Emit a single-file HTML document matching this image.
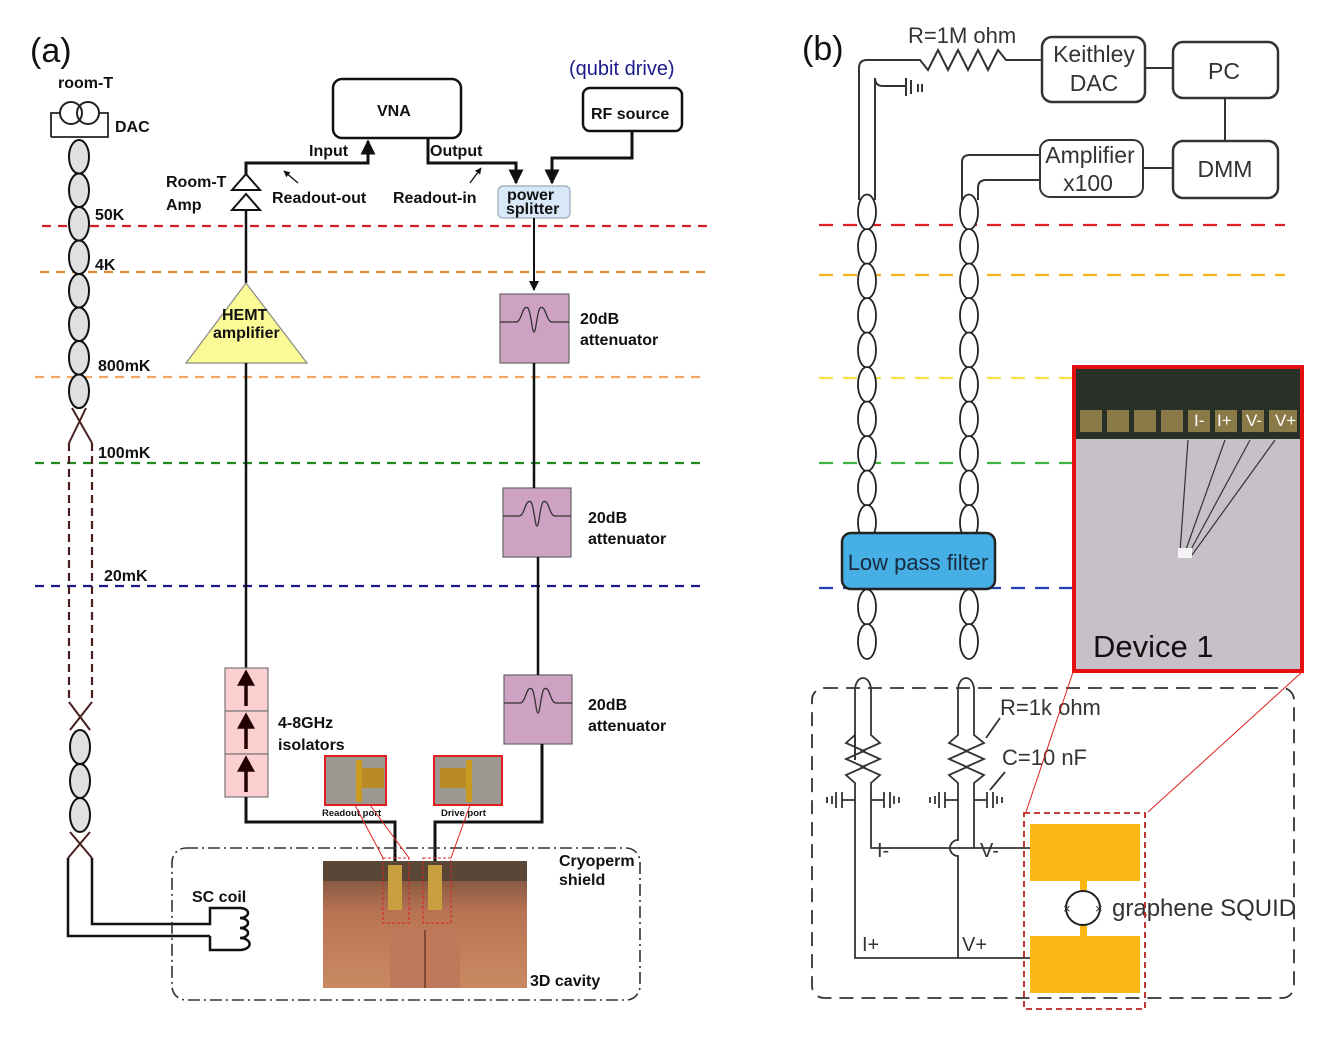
<!DOCTYPE html>
<html><head><meta charset="utf-8">
<style>
html,body{margin:0;padding:0;background:#fff;}
svg{display:block;}
.a{font-family:"Liberation Sans",Arial,sans-serif;font-weight:bold;font-size:16px;fill:#111;}
.b{font-family:"Liberation Sans",sans-serif;fill:#333;}
</style></head>
<body>
<svg id="s" width="1317" height="1040" viewBox="0 0 1317 1040" xmlns="http://www.w3.org/2000/svg">
<defs>
<marker id="ar" viewBox="0 0 10 10" refX="9" refY="5" markerWidth="5" markerHeight="5" orient="auto"><path d="M0,0L10,5L0,10z" fill="#111"/></marker>
<linearGradient id="cu" x1="0" y1="0" x2="0" y2="1"><stop offset="0" stop-color="#6b4a3a"/><stop offset="0.4" stop-color="#b87353"/><stop offset="1" stop-color="#c98a62"/></linearGradient>
</defs>

<!-- ========== (a) ========== -->
<text x="30" y="62" font-family="Liberation Sans,sans-serif" font-size="34" fill="#111">(a)</text>

<g stroke-width="2.2" stroke-dasharray="9,7">
<line x1="42" y1="226" x2="710" y2="226" stroke="#d02020"/>
<line x1="40" y1="272" x2="710" y2="272" stroke="#e08a2a"/>
<line x1="35" y1="377" x2="705" y2="377" stroke="#f0a860"/>
<line x1="35" y1="463" x2="705" y2="463" stroke="#208a20"/>
<line x1="35" y1="586" x2="705" y2="586" stroke="#1a1a8a"/>
</g>
<text class="a" x="95" y="220">50K</text>
<text class="a" x="95" y="270">4K</text>
<text class="a" x="98" y="371">800mK</text>
<text class="a" x="98" y="458">100mK</text>
<text class="a" x="104" y="581">20mK</text>

<text class="a" x="58" y="88">room-T</text>
<path d="M51,137 V113 H60 M100,113 H108 V137 H51" fill="none" stroke="#222" stroke-width="1.8"/>
<circle cx="71" cy="113" r="11" fill="none" stroke="#222" stroke-width="2"/>
<circle cx="88" cy="113" r="11" fill="none" stroke="#222" stroke-width="2"/>
<text class="a" x="115" y="132">DAC</text>
<g id="chainA" fill="#e0e0e0" stroke="#111" stroke-width="2"></g>
<path d="M72,408 L92,443 M86,408 L69,443 M69,702 L90,730 M92,702 L70,730 M70,832 L92,858 M90,832 L68,858" stroke="#4a2020" stroke-width="2"/>
<path d="M69,443 V702 M92,443 V702" stroke="#4a2020" stroke-width="2.2" stroke-dasharray="8,5"/>
<path d="M68,858 V936 H210 M92,858 V924 H210 V908 H240 M210,936 V950 H240" fill="none" stroke="#111" stroke-width="2.5"/>
<path d="M240,908 a8,5 0 0 1 0,10 a8,5 0 0 1 0,10 a8,5 0 0 1 0,10 a8,5 0 0 1 0,12" fill="none" stroke="#111" stroke-width="2.5"/>
<text class="a" x="192" y="902" font-size="15">SC coil</text>

<rect x="333" y="79" width="128" height="59" rx="9" fill="#fff" stroke="#111" stroke-width="2.5"/>
<text class="a" x="377" y="116">VNA</text>
<rect x="583" y="88" width="99" height="43" rx="7" fill="#fff" stroke="#111" stroke-width="2.5"/>
<text class="a" x="591" y="119">RF source</text>
<text x="569" y="75" font-family="Liberation Sans,sans-serif" font-size="20" fill="#1a1a8a">(qubit drive)</text>

<path d="M246,188 V163 H368 V141" fill="none" stroke="#111" stroke-width="3" marker-end="url(#ar)"/>
<path d="M428,138 V163 H516 V183" fill="none" stroke="#111" stroke-width="3" marker-end="url(#ar)"/>
<path d="M632,131 V158 H552 V183" fill="none" stroke="#111" stroke-width="3" marker-end="url(#ar)"/>
<text class="a" x="309" y="156">Input</text>
<text class="a" x="430" y="156">Output</text>
<text class="a" x="272" y="203">Readout-out</text>
<text class="a" x="393" y="203">Readout-in</text>
<path d="M298,183 L284,171" stroke="#111" stroke-width="1.3" marker-end="url(#ar)"/>
<path d="M470,183 L481,168" stroke="#111" stroke-width="1.3" marker-end="url(#ar)"/>
<text class="a" x="166" y="187">Room-T</text>
<text class="a" x="166" y="210">Amp</text>
<path d="M232,190 L246,174 L260,190 Z M232,210 L246,194 L260,210 Z" fill="#fff" stroke="#111" stroke-width="2"/>
<rect x="498" y="186" width="72" height="32" rx="5" fill="#d8e8f8" stroke="#9ab" stroke-width="1.2"/>
<text class="a" x="507" y="200" font-size="15">power</text>
<text class="a" x="506" y="214" font-size="15">splitter</text>

<line x1="246" y1="210" x2="246" y2="283" stroke="#111" stroke-width="2.5"/>
<path d="M246,283 L307,363 L186,363 Z" fill="#fafa96" stroke="#888" stroke-width="1.2"/>
<text class="a" x="222" y="320" font-size="14">HEMT</text>
<text class="a" x="213" y="338" font-size="14">amplifier</text>
<line x1="246" y1="363" x2="246" y2="668" stroke="#111" stroke-width="2.5"/>
<g fill="#fbcfd0" stroke="#777" stroke-width="1.2">
<rect x="225" y="668" width="43" height="43"/><rect x="225" y="711" width="43" height="43"/><rect x="225" y="754" width="43" height="43"/>
</g>
<g stroke="#200" stroke-width="3.5" fill="#200">
<line x1="246" y1="706" x2="246" y2="682"/><path d="M240,684 L246,673 L252,684Z"/>
<line x1="246" y1="749" x2="246" y2="725"/><path d="M240,727 L246,716 L252,727Z"/>
<line x1="246" y1="792" x2="246" y2="768"/><path d="M240,770 L246,759 L252,770Z"/>
</g>
<text class="a" x="278" y="728">4-8GHz</text>
<text class="a" x="278" y="750">isolators</text>
<path d="M246,797 V822 H395 V862" fill="none" stroke="#111" stroke-width="3"/>

<line x1="534" y1="218" x2="534" y2="290" stroke="#111" stroke-width="2" marker-end="url(#ar)"/>
<g fill="#cda2c2" stroke="#666" stroke-width="1.2">
<rect x="500" y="294" width="69" height="69"/>
<rect x="503" y="488" width="68" height="69"/>
<rect x="504" y="675" width="68" height="69"/>
</g>
<g fill="none" stroke="#333" stroke-width="1.3">
<path d="M500,322 H516 C522,322 522,304 528,308 C531,312 532,332 534,332 C536,332 537,312 540,308 C546,304 546,322 552,322 H569"/>
<path d="M503,516 H519 C525,516 525,498 531,502 C534,506 535,526 537,526 C539,526 540,506 543,502 C549,498 549,516 555,516 H571"/>
<path d="M504,703 H520 C526,703 526,685 532,689 C535,693 536,713 538,713 C540,713 541,693 544,689 C550,685 550,703 556,703 H572"/>
</g>
<line x1="534" y1="363" x2="534" y2="488" stroke="#111" stroke-width="2.5"/>
<line x1="538" y1="557" x2="538" y2="675" stroke="#111" stroke-width="2.5"/>
<text class="a" x="580" y="324">20dB</text><text class="a" x="580" y="345">attenuator</text>
<text class="a" x="588" y="523">20dB</text><text class="a" x="588" y="544">attenuator</text>
<text class="a" x="588" y="710">20dB</text><text class="a" x="588" y="731">attenuator</text>
<path d="M542,744 V822 H435 V862" fill="none" stroke="#111" stroke-width="3"/>

<rect x="325" y="756" width="61" height="49" fill="#9a9890" stroke="#e02020" stroke-width="2"/>
<rect x="356" y="760" width="6" height="42" fill="#c89a20"/><rect x="362" y="768" width="22" height="20" fill="#b88a28"/>
<rect x="434" y="756" width="68" height="49" fill="#9a9890" stroke="#e02020" stroke-width="2"/>
<rect x="466" y="760" width="6" height="42" fill="#c89a20"/><rect x="440" y="768" width="26" height="20" fill="#b88a28"/>
<text x="322" y="816" font-family="Liberation Sans,sans-serif" font-weight="bold" font-size="9.5" fill="#111">Readout port</text>
<text x="441" y="816" font-family="Liberation Sans,sans-serif" font-weight="bold" font-size="9.5" fill="#111">Drive port</text>

<rect x="172" y="848" width="468" height="152" rx="14" fill="none" stroke="#333" stroke-width="1.6" stroke-dasharray="12,4,2,4"/>
<text class="a" x="559" y="866" font-size="15">Cryoperm</text>
<text class="a" x="559" y="885" font-size="15">shield</text>
<rect x="323" y="861" width="204" height="127" fill="url(#cu)"/>
<rect x="323" y="861" width="204" height="20" fill="#5a4636"/>
<rect x="390" y="930" width="70" height="58" fill="#c0785a"/>
<line x1="425" y1="930" x2="425" y2="988" stroke="#6a3a2a" stroke-width="1.5"/>
<rect x="388" y="865" width="14" height="45" fill="#c9a040"/><rect x="428" y="865" width="14" height="45" fill="#c9a040"/>
<rect x="383" y="858" width="26" height="65" fill="none" stroke="#e02020" stroke-dasharray="3,2" stroke-width="1"/>
<rect x="423" y="858" width="28" height="65" fill="none" stroke="#e02020" stroke-dasharray="3,2" stroke-width="1"/>
<path d="M355,805 L383,858 M370,805 L409,858 M470,805 L451,858" stroke="#e02020" stroke-width="1"/>
<text class="a" x="530" y="986" font-size="15">3D  cavity</text>

<!-- ========== (b) ========== -->
<text x="802" y="60" font-family="Liberation Sans,sans-serif" font-size="34" fill="#111">(b)</text>
<g stroke-width="2.2" stroke-dasharray="14,10">
<line x1="819" y1="225" x2="1285" y2="225" stroke="#e02020"/>
<line x1="819" y1="275" x2="1285" y2="275" stroke="#f6b020"/>
<line x1="819" y1="378" x2="1075" y2="378" stroke="#f8e040"/>
<line x1="819" y1="463" x2="1075" y2="463" stroke="#40b040"/>
<line x1="819" y1="588" x2="1075" y2="588" stroke="#2040b0"/>
</g>

<rect x="1042" y="37" width="103" height="65" rx="10" fill="#fff" stroke="#333" stroke-width="2.5"/>
<text class="b" x="1094" y="62" font-size="23" text-anchor="middle">Keithley</text>
<text class="b" x="1094" y="91" font-size="23" text-anchor="middle">DAC</text>
<rect x="1173" y="42" width="105" height="56" rx="10" fill="#fff" stroke="#333" stroke-width="2.5"/>
<text class="b" x="1224" y="79" font-size="23" text-anchor="middle">PC</text>
<rect x="1040" y="140" width="103" height="57" rx="10" fill="#fff" stroke="#333" stroke-width="2"/>
<text class="b" x="1090" y="163" font-size="23" text-anchor="middle">Amplifier</text>
<text class="b" x="1088" y="191" font-size="23" text-anchor="middle">x100</text>
<rect x="1173" y="141" width="105" height="57" rx="10" fill="#fff" stroke="#333" stroke-width="2.5"/>
<text class="b" x="1225" y="177" font-size="23" text-anchor="middle">DMM</text>
<path d="M1145,68 H1173 M1225,98 V141 M1143,168 H1173" stroke="#333" stroke-width="2"/>
<text class="b" x="908" y="43" font-size="22">R=1M ohm</text>
<g fill="none" stroke="#333" stroke-width="2">
<path d="M859,200 V68 Q859,60 867,60 H920 L928,70 L938,50 L948,70 L958,50 L968,70 L978,50 L988,70 L998,50 L1006,60 H1042"/>
<path d="M875,200 V78 Q875,86 883,86 H906 M906,78 V96 M911,80 V94 M918,84 V92 M922,84 V92"/>
<path d="M962,200 V162 Q962,155 970,155 H1040"/>
<path d="M978,200 V188 Q978,180 986,180 H1040"/>
</g>
<g id="chainB" fill="#fff" stroke="#222" stroke-width="1.8"></g>
<rect x="842" y="533" width="153" height="56" rx="9" fill="#46b0e4" stroke="#222" stroke-width="2.5"/>
<text x="918" y="570" font-family="Liberation Sans,sans-serif" font-size="22" fill="#1a2a40" text-anchor="middle">Low pass filter</text>

<rect x="812" y="688" width="482" height="310" rx="12" fill="none" stroke="#333" stroke-width="1.8" stroke-dasharray="14,8"/>
<g fill="none" stroke="#333" stroke-width="1.8">
<path d="M855,760 V690 a8,12 0 0 1 16,0 V735 L880,743 L862,751 L880,759 L862,767 L880,775 L871,783 V848 H1030"/>
<path d="M855,760 V735 L846,743 L864,751 L846,759 L864,767 L846,775 L855,783 V958 H1030"/>
<path d="M958,690 a8,12 0 0 1 16,0 V735 L984,743 L966,751 L984,759 L966,767 L984,775 L974,783 V848"/>
<path d="M958,690 V735 L949,743 L967,751 L949,759 L967,767 L949,775 L958,783 V840 A8,8 0 0 0 958,856 V958"/>
<path d="M986,738 L1000,718 M990,790 L1005,772"/>
<path d="M855,800 H842 M842,792 V808 M836,792 V808 M832,796 V804 M827,797 V803"/>
<path d="M871,800 H884 M884,792 V808 M890,792 V808 M894,796 V804 M899,797 V803"/>
<path d="M958,800 H945 M945,792 V808 M939,792 V808 M935,796 V804 M930,797 V803"/>
<path d="M974,800 H987 M987,792 V808 M993,792 V808 M997,796 V804 M1002,797 V803"/>
</g>
<text class="b" x="1000" y="715" font-size="22">R=1k ohm</text>
<text class="b" x="1002" y="765" font-size="22">C=10 nF</text>
<text class="b" x="877" y="857" font-size="20">I-</text>
<text class="b" x="980" y="857" font-size="20">V-</text>
<text class="b" x="862" y="951" font-size="20">I+</text>
<text class="b" x="962" y="951" font-size="20">V+</text>
<rect x="1030" y="824" width="110" height="57" fill="#fbb714"/>
<rect x="1030" y="936" width="110" height="57" fill="#fbb714"/>
<rect x="1080" y="881" width="7" height="55" fill="#fbb714"/>
<circle cx="1083" cy="908" r="17" fill="#fff" stroke="#222" stroke-width="2"/>
<text class="b" x="1063" y="913" font-size="13">×</text><text class="b" x="1095" y="913" font-size="13">×</text>
<text class="b" x="1112" y="916" font-size="24">graphene SQUID</text>
<rect x="1024" y="813" width="121" height="196" fill="none" stroke="#c02020" stroke-width="1.8" stroke-dasharray="6,4"/>
<path d="M1026,812 L1073,672 M1148,812 L1302,672" stroke="#e02020" stroke-width="1"/>

<rect x="1074" y="367" width="228" height="304" fill="#c8c0c8" stroke="#e41010" stroke-width="4"/>
<rect x="1076" y="369" width="224" height="70" fill="#283028"/>
<g fill="#8a7a48"><rect x="1080" y="410" width="22" height="22"/><rect x="1107" y="410" width="22" height="22"/><rect x="1134" y="410" width="22" height="22"/><rect x="1161" y="410" width="22" height="22"/><rect x="1188" y="410" width="22" height="22"/><rect x="1215" y="410" width="22" height="22"/><rect x="1242" y="410" width="22" height="22"/><rect x="1269" y="410" width="28" height="22"/></g>
<g stroke="#333" stroke-width="1.2"><line x1="1188" y1="440" x2="1180" y2="552"/><line x1="1225" y1="440" x2="1184" y2="555"/><line x1="1250" y1="440" x2="1188" y2="555"/><line x1="1275" y1="440" x2="1192" y2="555"/></g>
<rect x="1178" y="548" width="14" height="10" fill="#f4f4f4"/>
<g font-family="Liberation Sans,sans-serif" font-size="17" fill="#fff"><text x="1194" y="426">I-</text><text x="1217" y="426">I+</text><text x="1246" y="426">V-</text><text x="1275" y="426">V+</text></g>
<text x="1093" y="657" font-family="Liberation Sans,sans-serif" font-size="31" fill="#111">Device 1</text>
</svg>
<script>
var ns="http://www.w3.org/2000/svg";
function ov(g,cx,cy,rx,ry,bef){var e=document.createElementNS(ns,"ellipse");e.setAttribute("cx",cx);e.setAttribute("cy",cy);e.setAttribute("rx",rx);e.setAttribute("ry",ry);g.appendChild(e);}
var A=document.getElementById("chainA");
for(var i=0;i<8;i++)ov(A,79,140+16.8+i*33.5,10,16.8);
for(var i=0;i<3;i++)ov(A,80,730+17+i*34,10,17);
var B=document.getElementById("chainB");
[867,969].forEach(function(x){
 for(var y=195;y<545;y+=34.5)ov(B,x,y+17,9,17.5);
 for(var y=590;y+34<=670;y+=34.5)ov(B,x,y+17,9,17.5);
});
</script>
</body></html>
